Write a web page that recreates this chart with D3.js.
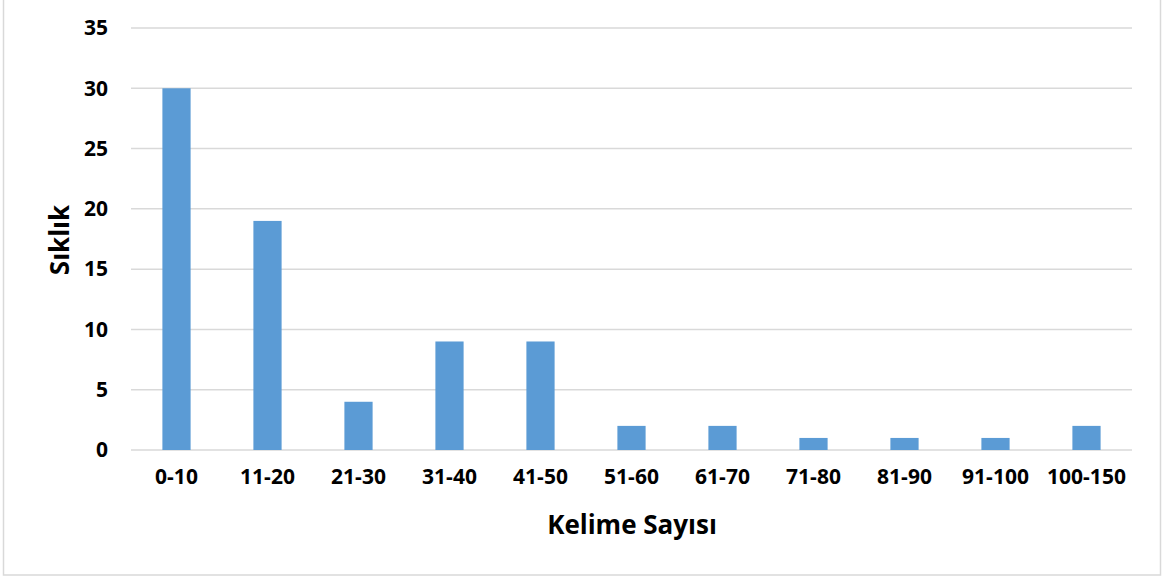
<!DOCTYPE html>
<html>
<head>
<meta charset="utf-8">
<script src="https://cdn.jsdelivr.net/npm/d3@7"></script>
<style>
  body { margin: 0; background: #fff; }
  text { font-family: "Open Sans", "Noto Sans", sans-serif; font-weight: bold; fill: #000; }
</style>
</head>
<body>
<svg id="chart" width="1167" height="578"></svg>
<script>
const categories = ["0-10", "11-20", "21-30", "31-40", "41-50", "51-60", "61-70", "71-80", "81-90", "91-100", "100-150"];
const counts = [30, 19, 4, 9, 9, 2, 2, 1, 1, 1, 2];
const yTicks = [0, 5, 10, 15, 20, 25, 30, 35];

const svg = d3.select("#chart");

// outer frame
svg.append("rect")
  .attr("x", 3.5).attr("y", -1)
  .attr("width", 1157).attr("height", 576)
  .attr("fill", "none")
  .attr("stroke", "#d9d9d9")
  .attr("stroke-width", 1.5);

const xScale = d3.scaleBand()
  .domain(categories)
  .range([131, 1132])
  .paddingInner(0.69)
  .paddingOuter(0.345);

const yScale = d3.scaleLinear()
  .domain([0, 35])
  .range([450, 28]);

// gridlines
svg.append("g")
  .selectAll("line")
  .data(yTicks)
  .enter()
  .append("line")
  .attr("x1", 131).attr("x2", 1132)
  .attr("y1", d => yScale(d)).attr("y2", d => yScale(d))
  .attr("stroke", "#d9d9d9")
  .attr("stroke-width", 1.5);

// bars
svg.append("g")
  .selectAll("rect")
  .data(categories)
  .enter()
  .append("rect")
  .attr("x", d => xScale(d))
  .attr("y", (d, i) => yScale(counts[i]))
  .attr("width", xScale.bandwidth())
  .attr("height", (d, i) => yScale(0) - yScale(counts[i]))
  .attr("fill", "#5b9bd5");

// y axis labels
const yAxis = d3.axisLeft(yScale).tickValues(yTicks).tickSize(0).tickPadding(0);
svg.append("g")
  .attr("transform", "translate(108,0)")
  .call(yAxis)
  .call(g => g.select(".domain").remove())
  .selectAll("text")
  .style("font-size", "21px")
  .attr("font-family", null);

// x axis labels
const xAxis = d3.axisBottom(xScale).tickSize(0).tickPadding(0);
svg.append("g")
  .attr("transform", "translate(0,469)")
  .call(xAxis)
  .call(g => g.select(".domain").remove())
  .selectAll("text")
  .style("font-size", "21px")
  .attr("font-family", null);

// axis titles
svg.append("text")
  .attr("x", 632).attr("y", 534)
  .attr("text-anchor", "middle")
  .style("font-size", "26px")
  .text("Kelime Sayısı");

svg.append("text")
  .attr("transform", "translate(69,240) rotate(-90)")
  .attr("text-anchor", "middle")
  .style("font-size", "26px")
  .text("Sıklık");
</script>
</body>
</html>
